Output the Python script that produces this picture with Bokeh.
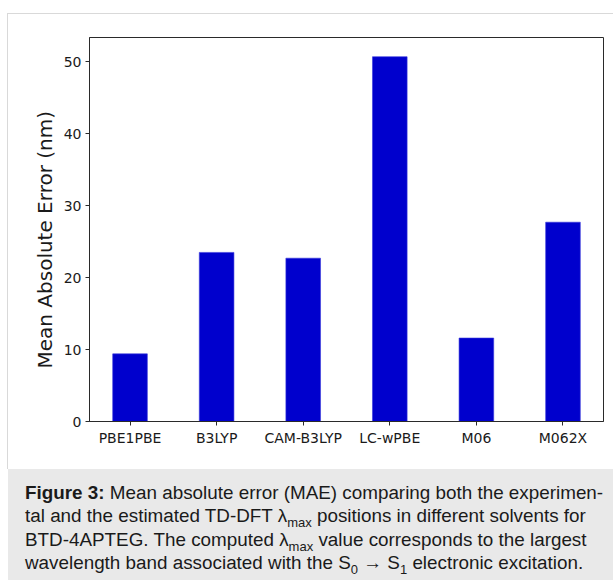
from bokeh.plotting import figure
from bokeh.models import FixedTicker, Range1d, ColumnDataSource, Div, Title
from bokeh.layouts import column
from bokeh.embed import file_html
from bokeh.resources import INLINE

# ---- data ----
methods = ["PBE1PBE", "B3LYP", "CAM-B3LYP", "LC-wPBE", "M06", "M062X"]
mae = [9.4, 23.5, 22.7, 50.7, 11.6, 27.7]
y_ticks = [0, 10, 20, 30, 40, 50]
y_label = "Mean Absolute Error (nm)"

xs = list(range(len(methods)))
src = ColumnDataSource(dict(x=xs, top=mae))

X0, X1 = -0.468, len(methods) - 1 + 0.468
Y0, Y1 = 0, 53.37

# figure canvas placed at page (8, 14); frame at page x 89..602, y 37..420
p = figure(width=605, height=455, output_backend="svg", toolbar_location=None,
           x_range=Range1d(X0, X1), y_range=Range1d(Y0, Y1),
           frame_width=513, frame_height=383,
           min_border_left=81, min_border_right=11,
           min_border_top=23, min_border_bottom=49)
p.margin = (13, 0, 0, 7)
p.styles = {"border-top": "1px solid #d9d9d9", "border-left": "1px solid #d9d9d9"}

p.vbar(x="x", top="top", width=0.4, source=src,
       fill_color="#0000cd", line_color="#3535dc", line_width=0.6)

p.grid.visible = False
p.outline_line_color = "#2a2a2a"
p.outline_line_width = 1
p.background_fill_color = "white"
p.border_fill_color = "white"

# x axis
xa = p.xaxis[0]
xa.ticker = FixedTicker(ticks=xs)
xa.major_label_overrides = {i: m for i, m in enumerate(methods)}
xa.minor_tick_line_color = None
xa.major_tick_out = 4
xa.major_tick_in = 0
xa.major_label_standoff = 4
xa.major_label_text_font = "DejaVu Sans"
xa.major_label_text_font_size = "14px"
xa.major_label_text_color = "#1a1a1a"
xa.axis_line_color = "#2a2a2a"
xa.major_tick_line_color = "#2a2a2a"

# y axis
ya = p.yaxis[0]
ya.ticker = FixedTicker(ticks=y_ticks)
ya.minor_tick_line_color = None
ya.major_tick_out = 4
ya.major_tick_in = 0
ya.major_label_standoff = 4
ya.major_label_text_font = "DejaVu Sans"
ya.major_label_text_font_size = "14px"
ya.major_label_text_color = "#1a1a1a"
ya.axis_line_color = "#2a2a2a"
ya.major_tick_line_color = "#2a2a2a"

# y axis title as a side title so it can sit slightly below the frame centre
p.add_layout(Title(text=y_label, align="left", offset=53, standoff=7,
                   text_font="DejaVu Sans", text_font_size="20px",
                   text_font_style="normal", text_color="#1a1a1a"), "left")

sub = '<sub style="font-size:13px;line-height:0">'
caption_html = (
    '<div style="background:#e9e9e9;width:605px;height:111px;box-sizing:border-box;'
    'padding:12px 0 0 17px;font-family:\'Liberation Sans\',Arial,sans-serif;font-size:18.85px;'
    'line-height:23.3px;color:#1a1a1a;white-space:nowrap;overflow:hidden;">'
    '<b>Figure 3:</b> Mean absolute error (MAE) comparing both the experimen-<br>'
    'tal and the estimated TD-DFT &lambda;' + sub + 'max</sub> '
    'positions in different solvents for<br>'
    'BTD-4APTEG. The computed &lambda;' + sub + 'max</sub> '
    'value corresponds to the largest<br>'
    'wavelength band associated with the S' + sub + '0</sub> '
    '&rarr; S' + sub + '1</sub> electronic excitation.'
    '</div>'
)
cap = Div(text=caption_html, width=605, height=111, margin=(0, 0, 0, 8))

layout = column(p, cap, spacing=0)

open("out.html", "w").write(file_html(layout, INLINE))
